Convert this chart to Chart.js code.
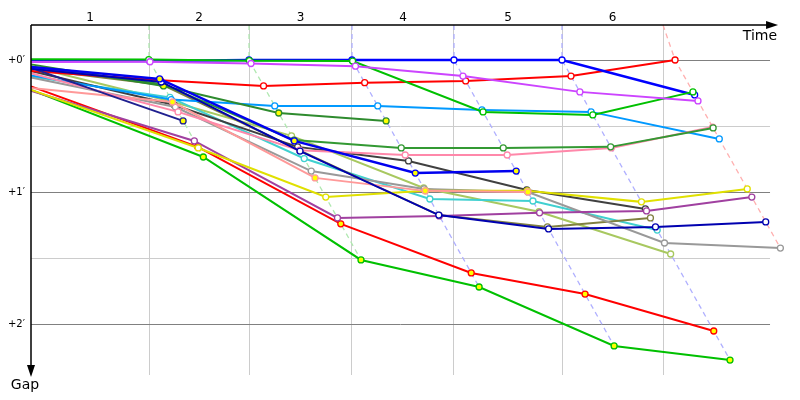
<!DOCTYPE html>
<html>
<head>
<meta charset="utf-8">
<script src="https://cdn.jsdelivr.net/npm/chart.js@4/dist/chart.umd.min.js"></script>
<style>
  body { margin: 0; background: #fff; }
  #wrap { width: 800px; height: 400px; }
</style>
</head>
<body>
<div id="wrap"><canvas id="raceChart"></canvas></div>
<script>
// time (s) at which each lap line is drawn, and leader time at end of each lap
const lapLines = [95.8, 177.0, 260.6, 343.4, 431.1, 513.1];
const leaderTimes = [95.8, 177.0, 260.6, 343.4, 431.1, 522.9];
const lapLabels = ['1', '2', '3', '4', '5', '6'];
const gapTicks = [0, 30, 60, 90, 120];
const gapLabels = { 0: "+0\u2032", 60: "+1\u2032", 120: "+2\u2032" };

// gap to leader (s) at start (index 0) and end of laps 1..6
const gapsBlue      = [0.5, 0.5, 0, 0, 0, 0, 15.9];
const gapsGreen     = [-0.3, -0.2, 0.3, 0.5, 23.6, 25, 14.5];
const gapsMagenta   = [0.9, 0.8, 1.6, 2.8, 7.3, 14.5, 18.6];
const gapsRed       = [5.0, 9.2, 11.8, 10.3, 9.5, 7.3, 0];
const gapsBlue2     = [3.2, 8.6, 36.8, 51.4, 50.5];
const gapsBlue3     = [4.0, 10, 41.4, 70.5, 76.8, 75.9, 73.6];
const gapsNavy      = [3.6, 27.7];
const gapsDkGreen1  = [2, 11.8, 24.1, 27.7];
const gapsDkGreen2  = [3, 11, 36.4, 40, 40, 39.5, 30.9];
const gapsPink      = [6, 23.6, 41, 43.2, 43.2, 40, 30.5];
const gapsSalmon    = [12.7, 19.1, 53.6, 59.5, 60];
const gapsYellow    = [13.6, 40, 62.3, 59.5, 59.5, 64.5, 58.6];
const gapsPurple    = [14, 36.8, 71.8, 70.9, 69.5, 68.6, 62.3];
const gapsRed2      = [12, 39.5, 74.5, 96.8, 106.4, 123.2];
const gapsGreen2    = [13.6, 44.1, 90.9, 103.2, 130, 136.4];
const gapsSkyBlue   = [7, 18, 20.9, 20.9, 22.7, 23.6, 35.9];
const gapsGray      = [8, 21.4, 50.5, 58.6, 60, 83.2, 85.5];
const gapsBlack     = [5, 20.5, 39.5, 45.9, 59.1, 67.7];
const gapsOlive     = [4, 11.4, 41.1, 70.5, 75.9, 71.8];
const gapsCyan      = [7.5, 17, 44.8, 63.2, 64.1, 77.3];
const gapsLtOlive   = [3, 19, 34.5, 58.2, 69, 88.2];

// [gaps, line colour, marker fill, line width]  (first in list is drawn on top)
const drivers = [
  [gapsMagenta, '#cc44ff', '#ffffff', 2],
  [gapsGreen, '#00c000', '#ffffff', 2],
  [gapsBlue, '#0000ff', '#ffffff', 2.5],
  [gapsBlue2, '#0000ee', '#ffff00', 2.5],
  [gapsBlue3, '#0000b0', '#ffffff', 2],
  [gapsNavy, '#202090', '#ffff00', 2],
  [gapsDkGreen1, '#2e8b2e', '#ffff00', 2],
  [gapsRed, '#ff0000', '#ffffff', 2],
  [gapsDkGreen2, '#339933', '#ffffff', 2],
  [gapsPink, '#ff88aa', '#ffffff', 2],
  [gapsSalmon, '#ff9999', '#ffff00', 2],
  [gapsYellow, '#e0e000', '#ffffff', 2],
  [gapsPurple, '#a040a0', '#ffffff', 2],
  [gapsRed2, '#ff0000', '#ffff00', 2],
  [gapsGreen2, '#00c000', '#ffff00', 2],
  [gapsSkyBlue, '#0099ff', '#ffffff', 2],
  [gapsGray, '#999999', '#ffffff', 2],
  [gapsBlack, '#404040', '#ffffff', 2],
  [gapsOlive, '#808040', '#ffffff', 2],
  [gapsCyan, '#40d0d0', '#ffffff', 2],
  [gapsLtOlive, '#a8c860', '#ffffff', 2]
];
const lapLineColors = ['#b0e8b0', '#b0e8b0', '#b0b0ff', '#b0b0ff', '#b0b0ff', '#ffb0b0'];

const Y_MIN = -15.9, Y_MAX = 143.2;
const X_GRID_END = 600;
const lapMids = lapLines.map((v, i) => ((i === 0 ? 0 : lapLines[i - 1]) + v) / 2);

function toPoints(gaps) {
  return gaps.map((g, i) => ({ x: i === 0 ? 0 : leaderTimes[i - 1] + g, y: g }));
}

const datasets = drivers.map(([gaps, color, fill, width]) => ({
  data: toPoints(gaps),
  borderColor: color,
  borderWidth: width,
  pointRadius: gaps.map((g, i) => (i === 0 ? 0 : 3)),
  pointBorderWidth: 1.3,
  pointBorderColor: color,
  pointBackgroundColor: fill,
  tension: 0,
  clip: false,
  order: 1
}));

// dashed lap lines: from top of the plot to the leader, then along gap = time
lapLines.forEach((t, i) => {
  const lapGaps = drivers.map(d => d[0][i + 1]).filter(g => g !== undefined);
  const maxGap = Math.max(...lapGaps);
  datasets.push({
    data: [
      { x: t, y: Y_MIN },
      { x: leaderTimes[i], y: 0 },
      { x: leaderTimes[i] + maxGap, y: maxGap }
    ],
    borderColor: lapLineColors[i],
    borderWidth: 1.3,
    borderDash: [5, 4],
    pointRadius: 0,
    clip: false,
    order: 100
  });
});

// horizontal gap lines stop short of the right edge
const gapGrid = {
  id: 'gapGrid',
  beforeDatasetsDraw(chart) {
    const { ctx, chartArea: a, scales } = chart;
    const xEnd = scales.x.getPixelForValue(X_GRID_END);
    ctx.save();
    ctx.lineWidth = 1;
    gapTicks.forEach(v => {
      const y = Math.round(scales.y.getPixelForValue(v)) + 0.5;
      ctx.strokeStyle = v % 60 === 0 ? '#808080' : '#cccccc';
      ctx.beginPath();
      ctx.moveTo(a.left, y);
      ctx.lineTo(xEnd, y);
      ctx.stroke();
    });
    ctx.restore();
  }
};

const axisArrows = {
  id: 'axisArrows',
  afterDraw(chart) {
    const { ctx, chartArea: a, scales } = chart;
    const xEnd = scales.x.getPixelForValue(X_GRID_END);
    ctx.save();
    ctx.strokeStyle = '#000';
    ctx.fillStyle = '#000';
    ctx.lineWidth = 1.5;
    ctx.beginPath();
    ctx.moveTo(a.left, a.top);
    ctx.lineTo(xEnd + 2, a.top);
    ctx.moveTo(a.left, a.top);
    ctx.lineTo(a.left, a.bottom - 4);
    ctx.stroke();
    ctx.beginPath();
    ctx.moveTo(xEnd + 8, a.top);
    ctx.lineTo(xEnd - 4, a.top - 4);
    ctx.lineTo(xEnd - 4, a.top + 4);
    ctx.closePath();
    ctx.fill();
    ctx.beginPath();
    ctx.moveTo(a.left, a.bottom + 2);
    ctx.lineTo(a.left - 4, a.bottom - 10);
    ctx.lineTo(a.left + 4, a.bottom - 10);
    ctx.closePath();
    ctx.fill();
    ctx.font = '14px "DejaVu Sans"';
    ctx.textBaseline = 'middle';
    ctx.textAlign = 'right';
    ctx.fillText('Time', xEnd + 7, a.top + 11);
    ctx.textAlign = 'center';
    ctx.fillText('Gap', a.left - 6, a.bottom + 10);
    ctx.restore();
  }
};

new Chart(document.getElementById('raceChart'), {
  type: 'line',
  data: { datasets },
  plugins: [gapGrid, axisArrows],
  options: {
    responsive: true,
    maintainAspectRatio: false,
    animation: false,
    layout: { padding: { top: 0, left: 0, right: 10, bottom: 25 } },
    plugins: { legend: { display: false }, tooltip: { enabled: false } },
    scales: {
      x: {
        type: 'linear',
        position: 'top',
        min: 0,
        max: 616.2,
        afterBuildTicks(scale) {
          scale.ticks = [...lapLines, ...lapMids].sort((a, b) => a - b).map(v => ({ value: v }));
        },
        afterFit(scale) { scale.height = 25; },
        ticks: {
          autoSkip: false,
          maxRotation: 0,
          padding: 0,
          color: '#000',
          font: { family: 'DejaVu Sans', size: 12 },
          callback(v) {
            const i = lapMids.indexOf(v);
            return i >= 0 ? lapLabels[i] : '';
          }
        },
        grid: {
          drawTicks: false,
          color(ctx) {
            return ctx.tick && lapLines.includes(ctx.tick.value) ? '#cccccc' : 'rgba(0,0,0,0)';
          }
        },
        border: { display: false }
      },
      y: {
        type: 'linear',
        reverse: true,
        min: Y_MIN,
        max: Y_MAX,
        afterBuildTicks(scale) {
          scale.ticks = gapTicks.map(v => ({ value: v }));
        },
        afterFit(scale) { scale.width = 31; },
        ticks: {
          autoSkip: false,
          padding: 6,
          color: '#000',
          font: { family: 'DejaVu Sans', size: 10 },
          callback(v) { return gapLabels[v] || ''; }
        },
        grid: { drawTicks: false, color: 'rgba(0,0,0,0)' },
        border: { display: false }
      }
    }
  }
});
</script>
</body>
</html>
